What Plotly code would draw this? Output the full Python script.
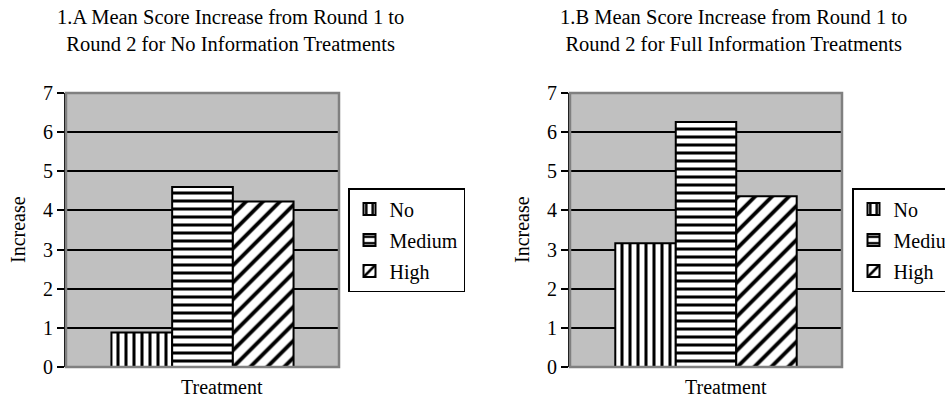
import plotly.graph_objects as go

# ---- data ----
category = ["Treatment"]
levels = ["No", "Medium", "High"]
no_info_values = [0.88, 4.60, 4.23]      # 1.A
full_info_values = [3.16, 6.26, 4.36]    # 1.B
y_ticks = [0, 1, 2, 3, 4, 5, 6, 7]
title_a = "1.A Mean Score Increase from Round 1 to<br>Round 2 for No Information Treatments"
title_b = "1.B Mean Score Increase from Round 1 to<br>Round 2 for Full Information Treatments"
y_title = "Increase"
x_title = "Treatment"

# ---- styling ----
W, H = 945, 405
FONT = "Liberation Serif, Times New Roman, Times, serif"
FS = 20
patterns = {"No": dict(shape="|", size=8, solidity=0.38),
            "Medium": dict(shape="-", size=8, solidity=0.38),
            "High": dict(shape="/", size=12, solidity=0.32)}


def px_x(p):
    return p / W


def px_y(p):
    return 1 - p / H


fig = go.Figure()

panels = [
    dict(vals=no_info_values, xa="x", ya="y", legend="legend", dom=(66, 339), title=title_a,
         title_x=230, xt_x=222, yt_x=18, tag="a"),
    dict(vals=full_info_values, xa="x2", ya="y2", legend="legend2", dom=(570, 842), title=title_b,
         title_x=733, xt_x=726, yt_x=522, tag="b"),
]

for p in panels:
    for lvl, v in zip(levels, p["vals"]):
        fig.add_trace(go.Bar(
            x=category, y=[v], name=lvl, xaxis=p["xa"], yaxis=p["ya"], legend=p["legend"],
            legendgroup=p["tag"] + lvl,
            marker=dict(color="white", line=dict(color="black", width=2),
                        pattern=dict(fgcolor="black", bgcolor="white", fillmode="replace",
                                     fgopacity=1, **patterns[lvl])),
            showlegend=True,
        ))

y_dom = [px_y(367), px_y(93)]
axis_common_y = dict(range=[0, 7], tickvals=y_ticks, showgrid=True, gridcolor="black", gridwidth=2,
                     showline=True, linecolor="black", linewidth=2, ticks="outside", ticklen=7,
                     tickwidth=2, tickcolor="black", zeroline=False,
                     tickfont=dict(family=FONT, size=FS, color="black"), domain=y_dom, fixedrange=True)
axis_common_x = dict(showticklabels=False, showgrid=False, zeroline=False, showline=False,
                     ticks="", type="category", fixedrange=True)

shapes = []
annotations = []
for i, p in enumerate(panels):
    sfx = "" if i == 0 else str(i + 1)
    fig.layout["xaxis" + sfx] = go.layout.XAxis(domain=[px_x(p["dom"][0]), px_x(p["dom"][1])],
                                                anchor="y" + sfx, **axis_common_x)
    fig.layout["yaxis" + sfx] = go.layout.YAxis(anchor="x" + sfx, **axis_common_y)
    # grey plot-area border
    shapes.append(dict(type="rect", xref="x" + sfx + " domain", yref="y" + sfx + " domain",
                       x0=0, x1=1, y0=0, y1=1, line=dict(color="#808080", width=2.5),
                       layer="above"))
    annotations.append(dict(text=p["title"], x=px_x(p["title_x"]), y=px_y(30), xref="paper", yref="paper",
                            xanchor="center", yanchor="middle", showarrow=False,
                            font=dict(family=FONT, size=20.5, color="black")))
    annotations.append(dict(text=x_title, x=px_x(p["xt_x"]), y=px_y(387), xref="paper", yref="paper",
                            xanchor="center", yanchor="middle", showarrow=False,
                            font=dict(family=FONT, size=FS, color="black")))
    annotations.append(dict(text=y_title, x=px_x(p["yt_x"]), y=px_y(230), xref="paper", yref="paper",
                            xanchor="center", yanchor="middle", showarrow=False, textangle=-90,
                            font=dict(family=FONT, size=FS, color="black")))

legend_common = dict(bgcolor="white", bordercolor="black", borderwidth=1.5,
                     font=dict(family=FONT, size=FS, color="black"), xanchor="left", yanchor="top",
                     itemwidth=30, traceorder="grouped", tracegroupgap=2)

fig.update_layout(
    width=W, height=H,
    margin=dict(l=0, r=0, t=0, b=0, pad=0, autoexpand=False),
    paper_bgcolor="white", plot_bgcolor="#c0c0c0",
    barmode="group", bargap=0.333, bargroupgap=0,
    font=dict(family=FONT, size=FS, color="black"),
    legend=dict(x=px_x(348), y=px_y(188), **legend_common),
    legend2=dict(x=px_x(852), y=px_y(188), **legend_common),
    shapes=shapes, annotations=annotations,
)

fig.write_html("out.html", config={"displayModeBar": False},
               post_script="document.body.style.margin='0';document.body.style.overflow='hidden';")
